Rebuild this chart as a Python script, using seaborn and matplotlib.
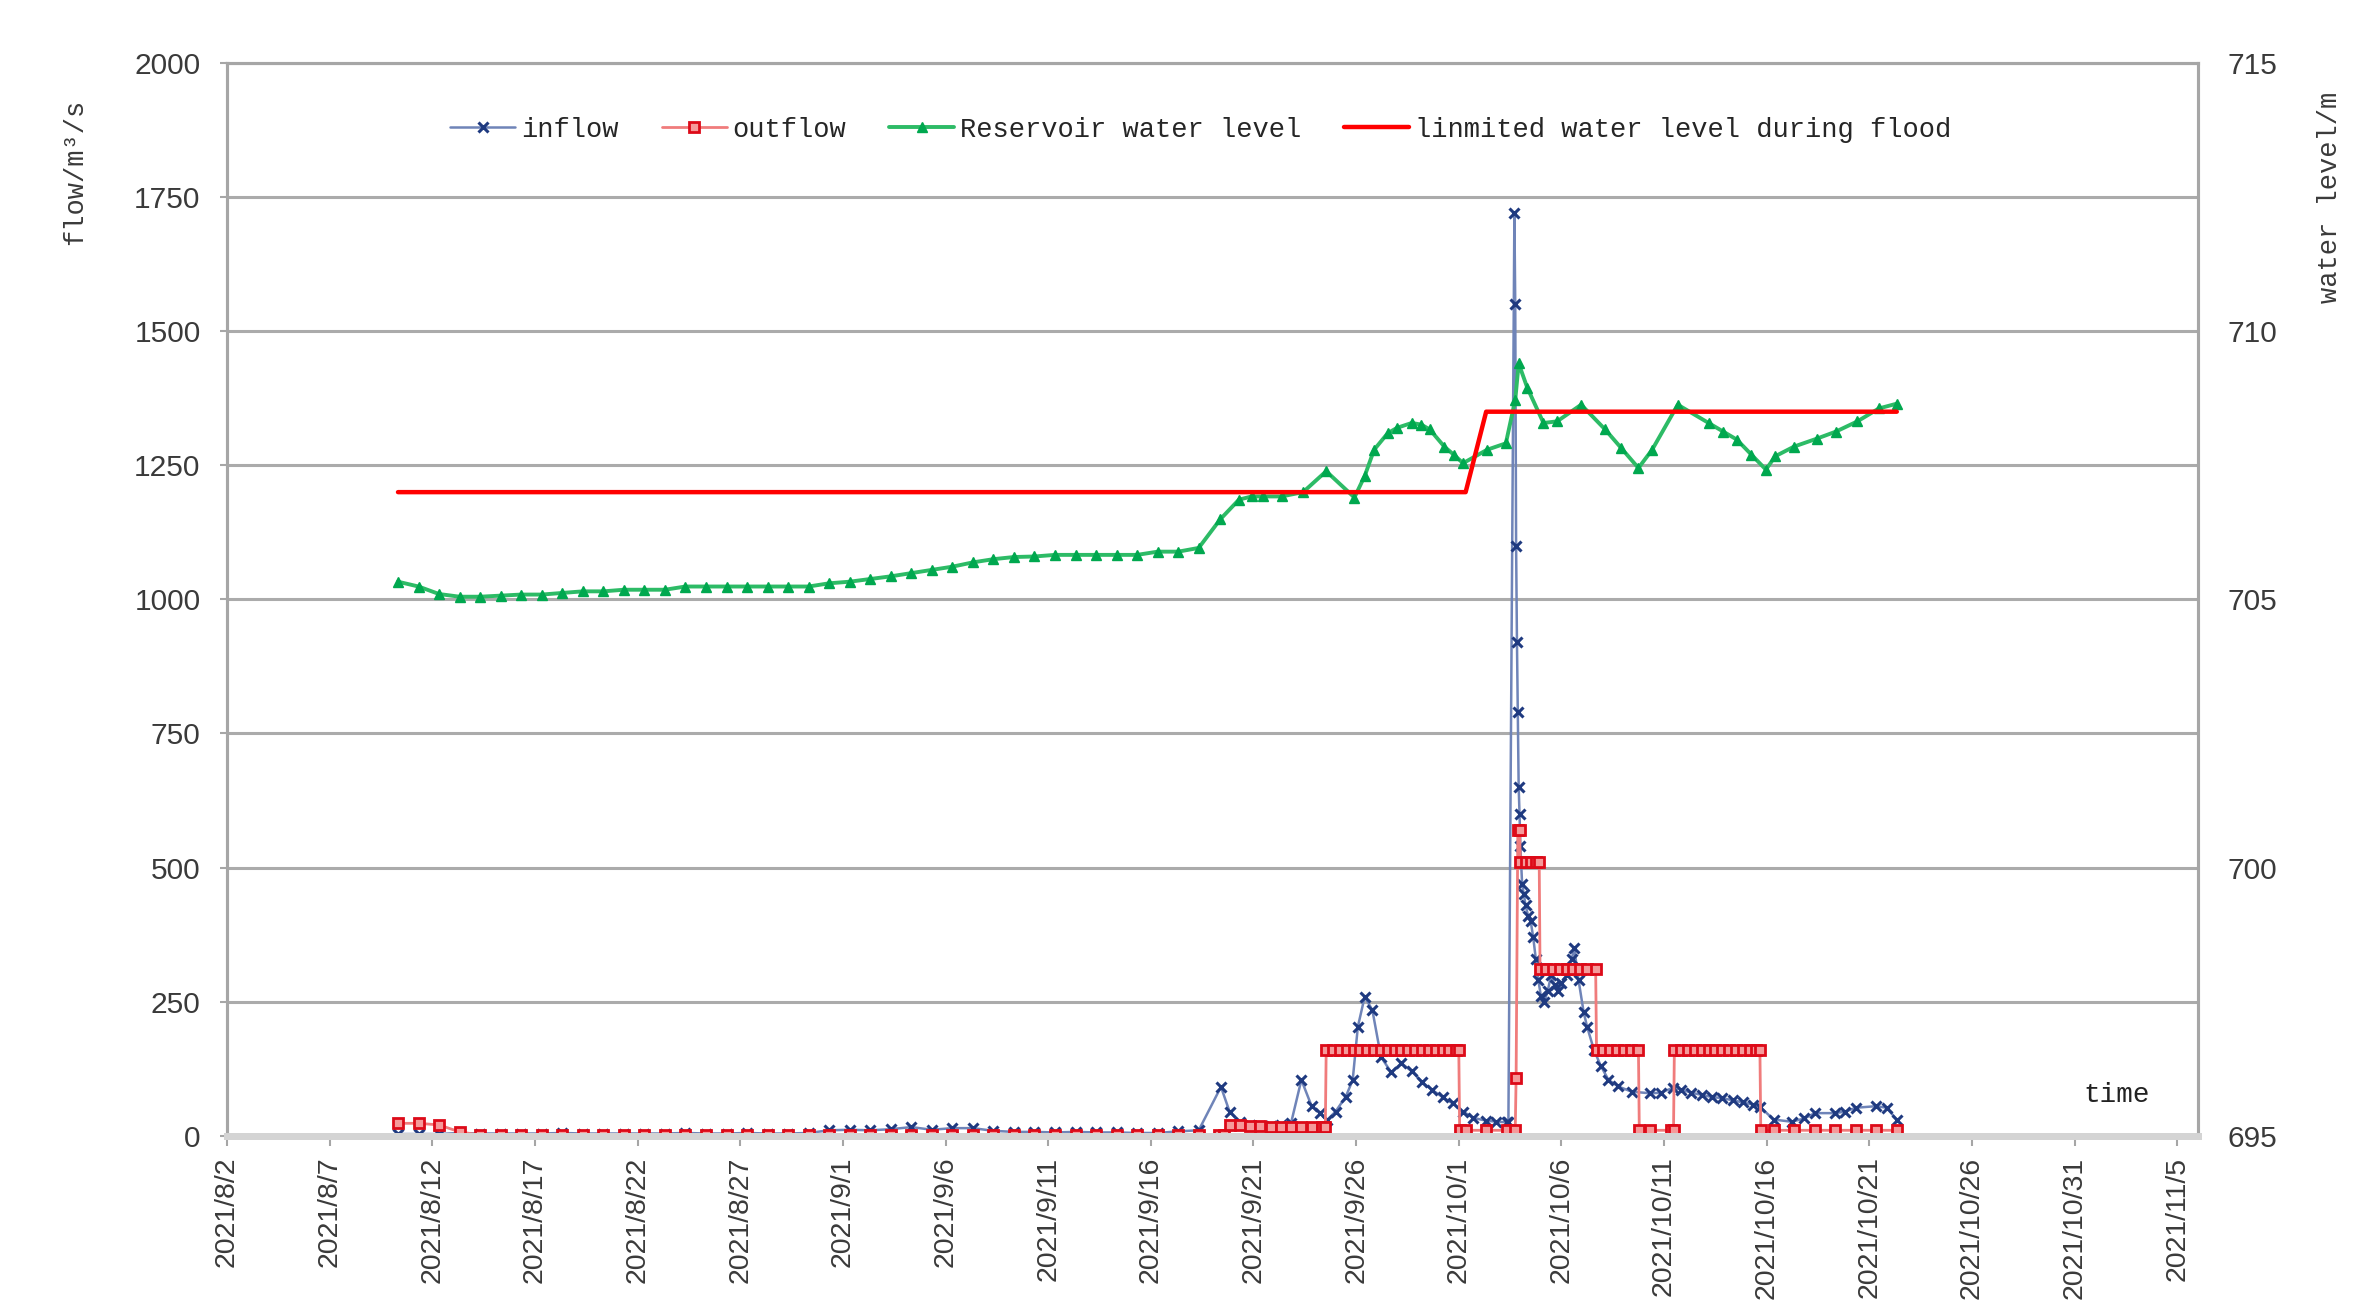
import matplotlib
matplotlib.use('Agg')
import matplotlib.pyplot as plt
from matplotlib.font_manager import FontProperties
import pandas as pd
import seaborn as sns

# ---------------- data ----------------
# daily readings (08:00) 2021-08-10 .. 2021-09-18
daily_time = pd.date_range('2021-08-10 08:00', '2021-09-18 08:00', freq='D')
inflow_daily = [3, 3, 3, 5, 4, 4, 4, 4, 5, 4, 4, 4, 4, 4, 5, 4, 4, 5, 4, 4,
                5, 10, 11, 10, 12, 16, 11, 14, 14, 9, 7, 7, 6, 7, 6, 6, 5, 5, 8, 10]
level_daily = [705.33, 705.24, 705.10, 705.05, 705.05, 705.07, 705.09, 705.09, 705.12, 705.15,
               705.15, 705.18, 705.18, 705.18, 705.24, 705.24, 705.24, 705.24, 705.24, 705.24,
               705.24, 705.30, 705.33, 705.38, 705.43, 705.49, 705.55, 705.61, 705.69, 705.75,
               705.79, 705.80, 705.83, 705.83, 705.83, 705.83, 705.83, 705.89, 705.89, 705.96]
outflow_daily_time = pd.date_range('2021-08-10 08:00', '2021-09-19 08:00', freq='D')
outflow_daily = [23, 23, 20, 7, 1, 1, 1, 1, 1, 1, 1, 1, 1, 1, 1, 1, 1, 1, 1, 1,
                 1, 1, 1, 1, 1, 1, 1, 1, 1, 1, 1, 1, 1, 1, 1, 1, 1, 1, 1, 1, 1]

# flood period readings
inflow_flood_time = [
    '2021-09-19 10:00', '2021-09-19 20:00', '2021-09-20 08:00', '2021-09-20 20:00',
    '2021-09-21 08:00', '2021-09-21 20:00', '2021-09-22 08:00', '2021-09-22 20:00',
    '2021-09-23 08:00', '2021-09-23 20:00', '2021-09-24 06:00', '2021-09-24 14:00',
    '2021-09-25 00:00', '2021-09-25 12:00', '2021-09-25 20:00', '2021-09-26 02:00',
    '2021-09-26 10:00', '2021-09-26 19:00', '2021-09-27 05:00', '2021-09-27 17:00',
    '2021-09-28 05:00', '2021-09-28 17:00', '2021-09-29 05:00', '2021-09-29 17:00',
    '2021-09-30 05:00', '2021-09-30 17:00', '2021-10-01 05:00', '2021-10-01 17:00',
    '2021-10-02 08:00', '2021-10-02 20:00', '2021-10-03 08:00', '2021-10-03 10:00',
    '2021-10-03 17:00', '2021-10-03 18:00', '2021-10-03 19:00', '2021-10-03 20:00',
    '2021-10-03 21:00', '2021-10-03 22:00', '2021-10-03 23:00', '2021-10-04 00:00',
    '2021-10-04 02:00', '2021-10-04 04:00', '2021-10-04 06:00', '2021-10-04 09:00',
    '2021-10-04 12:00', '2021-10-04 15:00', '2021-10-04 18:00', '2021-10-04 21:00',
    '2021-10-05 00:00', '2021-10-05 04:00', '2021-10-05 08:00', '2021-10-05 12:00',
    '2021-10-05 16:00', '2021-10-05 20:00', '2021-10-06 00:00', '2021-10-06 06:00',
    '2021-10-06 12:00', '2021-10-06 15:00', '2021-10-06 20:00', '2021-10-07 02:00',
    '2021-10-07 06:00', '2021-10-07 14:00', '2021-10-07 22:00', '2021-10-08 07:00',
    '2021-10-08 18:00', '2021-10-09 10:00', '2021-10-10 08:00', '2021-10-10 20:00',
    '2021-10-11 10:00', '2021-10-11 20:00', '2021-10-12 08:00', '2021-10-12 20:00',
    '2021-10-13 08:00', '2021-10-13 20:00', '2021-10-14 08:00', '2021-10-14 20:00',
    '2021-10-15 08:00', '2021-10-15 16:00', '2021-10-16 08:00', '2021-10-17 05:00',
    '2021-10-17 20:00', '2021-10-18 08:00', '2021-10-19 08:00', '2021-10-19 20:00',
    '2021-10-20 08:00', '2021-10-21 08:00', '2021-10-21 20:00', '2021-10-22 08:00']
inflow_flood = [91, 45, 25, 20, 18, 18, 20, 24, 104, 55, 42, 29,
                45, 73, 104, 203, 259, 234, 147, 118, 135, 120, 100, 85,
                72, 60, 45, 33, 28, 26, 25, 26,
                1720, 1550, 1100, 920, 790, 650, 600, 540,
                470, 450, 430, 410, 400, 370, 330, 290,
                260, 250, 270, 300, 280, 270, 284, 300,
                330, 349, 290, 230, 203, 160, 130, 104,
                92, 82, 79, 80, 89, 86, 80, 76,
                72, 70, 66, 62, 58, 54, 30, 26,
                32, 42, 42, 45, 52, 55, 52, 30]

outflow_flood_time = [
    '2021-09-19 14:00', '2021-09-19 20:00', '2021-09-20 08:00', '2021-09-20 20:00',
    '2021-09-21 08:00', '2021-09-21 20:00', '2021-09-22 08:00', '2021-09-22 20:00',
    '2021-09-23 08:00', '2021-09-23 20:00', '2021-09-24 08:00', '2021-09-24 12:00',
    '2021-09-24 13:00', '2021-09-24 21:00', '2021-09-25 05:00', '2021-09-25 13:00',
    '2021-09-25 21:00', '2021-09-26 05:00', '2021-09-26 13:00', '2021-09-26 21:00',
    '2021-09-27 05:00', '2021-09-27 13:00', '2021-09-27 21:00', '2021-09-28 05:00',
    '2021-09-28 13:00', '2021-09-28 21:00', '2021-09-29 05:00', '2021-09-29 13:00',
    '2021-09-29 21:00', '2021-09-30 05:00', '2021-09-30 13:00', '2021-09-30 21:00',
    '2021-10-01 00:00', '2021-10-01 01:00', '2021-10-01 08:00', '2021-10-02 08:00',
    '2021-10-03 08:00', '2021-10-03 18:00', '2021-10-03 19:00', '2021-10-03 21:00',
    '2021-10-03 23:00', '2021-10-04 00:00', '2021-10-04 06:00', '2021-10-04 12:00',
    '2021-10-04 18:00', '2021-10-04 22:00', '2021-10-04 23:00', '2021-10-05 06:00',
    '2021-10-05 14:00', '2021-10-05 22:00', '2021-10-06 06:00', '2021-10-06 14:00',
    '2021-10-06 22:00', '2021-10-07 06:00', '2021-10-07 16:00', '2021-10-07 17:00',
    '2021-10-08 01:00', '2021-10-08 09:00', '2021-10-08 17:00', '2021-10-09 01:00',
    '2021-10-09 09:00', '2021-10-09 18:00', '2021-10-09 19:00', '2021-10-10 08:00',
    '2021-10-11 08:00', '2021-10-11 11:00', '2021-10-11 12:00', '2021-10-11 20:00',
    '2021-10-12 04:00', '2021-10-12 12:00', '2021-10-12 20:00', '2021-10-13 04:00',
    '2021-10-13 12:00', '2021-10-13 20:00', '2021-10-14 04:00', '2021-10-14 12:00',
    '2021-10-14 20:00', '2021-10-15 04:00', '2021-10-15 12:00', '2021-10-15 16:00',
    '2021-10-15 17:00', '2021-10-16 08:00', '2021-10-17 08:00', '2021-10-18 08:00',
    '2021-10-19 08:00', '2021-10-20 08:00', '2021-10-21 08:00', '2021-10-22 08:00']
outflow_flood = [2, 20, 20, 18, 18, 17, 17, 17, 17, 17, 17, 17,
                 160, 160, 160, 160, 160, 160, 160, 160, 160, 160, 160, 160,
                 160, 160, 160, 160, 160, 160, 160, 160,
                 160, 10, 10, 10, 10, 10, 107, 570,
                 570, 510, 510, 510, 510, 510, 310, 310,
                 310, 310, 310, 310, 310, 310, 310, 160,
                 160, 160, 160, 160, 160, 160, 10, 10,
                 10, 10, 160, 160, 160, 160, 160, 160,
                 160, 160, 160, 160, 160, 160, 160, 160,
                 10, 10, 10, 10, 10, 10, 10, 10]

level_flood_time = [
    '2021-09-19 09:00', '2021-09-20 07:00', '2021-09-20 22:00', '2021-09-21 11:00',
    '2021-09-22 09:00', '2021-09-23 10:00', '2021-09-24 13:00', '2021-09-25 22:00',
    '2021-09-26 10:00', '2021-09-26 21:00', '2021-09-27 13:00', '2021-09-28 00:00',
    '2021-09-28 17:00', '2021-09-29 04:00', '2021-09-29 14:00', '2021-09-30 07:00',
    '2021-09-30 18:00', '2021-10-01 05:00', '2021-10-02 09:00', '2021-10-03 07:00',
    '2021-10-03 18:00', '2021-10-03 22:00', '2021-10-04 08:00', '2021-10-05 03:00',
    '2021-10-05 19:00', '2021-10-06 23:00', '2021-10-08 03:00', '2021-10-08 22:00',
    '2021-10-09 18:00', '2021-10-10 10:00', '2021-10-11 16:00', '2021-10-13 04:00',
    '2021-10-13 21:00', '2021-10-14 13:00', '2021-10-15 06:00', '2021-10-15 23:00',
    '2021-10-16 10:00', '2021-10-17 08:00', '2021-10-18 11:00', '2021-10-19 09:00',
    '2021-10-20 10:00', '2021-10-21 11:00', '2021-10-22 08:00']
level_flood = [706.49, 706.86, 706.92, 706.92, 706.92, 707.00, 707.39, 706.90,
               707.30, 707.79, 708.10, 708.20, 708.29, 708.26, 708.17, 707.85,
               707.70, 707.54, 707.79, 707.91, 708.72, 709.40, 708.95, 708.29,
               708.32, 708.63, 708.17, 707.82, 707.45, 707.79, 708.63, 708.29,
               708.13, 707.98, 707.70, 707.42, 707.67, 707.85, 708.00, 708.13,
               708.32, 708.56, 708.65]

limit_time = ['2021-08-10 08:00', '2021-10-01 08:00', '2021-10-02 08:00', '2021-10-22 08:00']
limit_level = [707.0, 707.0, 708.5, 708.5]

tick_dates = pd.date_range('2021-08-02', '2021-11-05', freq='5D')
tick_labels = ['2021/8/2', '2021/8/7', '2021/8/12', '2021/8/17', '2021/8/22', '2021/8/27',
               '2021/9/1', '2021/9/6', '2021/9/11', '2021/9/16', '2021/9/21', '2021/9/26',
               '2021/10/1', '2021/10/6', '2021/10/11', '2021/10/16', '2021/10/21',
               '2021/10/26', '2021/10/31', '2021/11/5']
flow_ticks = [0, 250, 500, 750, 1000, 1250, 1500, 1750, 2000]
level_ticks = [695, 700, 705, 710, 715]
legend_labels = ['inflow', 'outflow', 'Reservoir water level', 'linmited water level during flood']

# ---------------- frames ----------------
inflow_df = pd.DataFrame({'time': list(daily_time) + list(pd.to_datetime(inflow_flood_time)),
                          'v': inflow_daily + inflow_flood})
outflow_df = pd.DataFrame({'time': list(outflow_daily_time) + list(pd.to_datetime(outflow_flood_time)),
                           'v': outflow_daily + outflow_flood})
level_df = pd.DataFrame({'time': list(daily_time) + list(pd.to_datetime(level_flood_time)),
                         'v': level_daily + level_flood})
limit_df = pd.DataFrame({'time': pd.to_datetime(limit_time), 'v': limit_level})

# ---------------- plot ----------------
sns.set_theme(style='white')
plt.rcParams['font.family'] = ['Liberation Sans', 'DejaVu Sans']
mono = ['Liberation Mono', 'DejaVu Sans Mono']

fig = plt.figure(figsize=(23.71, 13.07), dpi=100)
ax = fig.add_axes([0.0957, 0.1311, 0.8313, 0.8206])
ax2 = ax.twinx()

common = dict(estimator=None, sort=False, legend=False)
sns.lineplot(data=inflow_df, x='time', y='v', ax=ax, color='#6F84B8', linewidth=1.8,
             marker='x', markersize=7, markeredgecolor='#1F3A80', markerfacecolor='#1F3A80',
             markeredgewidth=2.2, **common)
sns.lineplot(data=outflow_df, x='time', y='v', ax=ax, color='#F07C7C', linewidth=2.0,
             marker='s', markersize=7, markeredgecolor='#DD0A18', markerfacecolor='#F59A9A',
             markeredgewidth=2.0, **common)
sns.lineplot(data=level_df, x='time', y='v', ax=ax2, color='#2DBB66', linewidth=2.8,
             marker='^', markersize=7, markeredgecolor='#00A84F', markerfacecolor='#00A84F',
             markeredgewidth=1.0, **common)
sns.lineplot(data=limit_df, x='time', y='v', ax=ax2, color='#FF0000', linewidth=3.2, **common)

ax.set_xlim(pd.Timestamp('2021-08-02'), pd.Timestamp('2021-11-06'))
ax.set_ylim(0, 2000)
ax2.set_ylim(695, 715)
ax.set_xlabel('')
ax.set_ylabel('')
ax2.set_ylabel('')

ax.set_xticks(tick_dates)
ax.set_xticklabels(tick_labels, rotation=90, va='top', ha='center')
ax.set_yticks(flow_ticks)
ax.set_yticklabels([str(t) for t in flow_ticks])
ax2.set_yticks(level_ticks)
ax2.set_yticklabels([str(t) for t in level_ticks])

ax.tick_params(axis='x', length=7, width=1.5, color='#A6A6A6', pad=8,
               labelsize=20.5, labelcolor='#3A3A3A', bottom=True)
ax.tick_params(axis='y', length=5, width=1.5, color='#A6A6A6', pad=14,
               labelsize=21.5, labelcolor='#3A3A3A', left=True)
ax2.tick_params(axis='y', length=0, pad=21, labelsize=21.5, labelcolor='#3A3A3A', right=True)

ax.yaxis.grid(True, color='#ABABAB', linewidth=2.2)
ax.xaxis.grid(False)
ax2.grid(False)
ax.set_axisbelow(True)

for a in (ax, ax2):
    for s in ('left', 'right', 'top'):
        a.spines[s].set_color('#A6A6A6')
        a.spines[s].set_linewidth(2.2)
    a.spines['bottom'].set_color('#D4D4D4')
    a.spines['bottom'].set_linewidth(5)

handles = [ax.lines[0], ax.lines[1], ax2.lines[0], ax2.lines[1]]
ax2.legend(handles, legend_labels, loc='center', bbox_to_anchor=(0.494, 0.938), ncol=4,
           frameon=False, prop=FontProperties(family=mono, size=19.5),
           handlelength=2.4, columnspacing=1.6, handletextpad=0.2)

fig.text(75 / 2371, 1 - 172 / 1307, 'flow/m³/s', rotation=90, ha='center', va='center',
         family=mono, fontsize=19.5, color='#3A3A3A')
fig.text(2330 / 2371, 1 - 197 / 1307, 'water level/m', rotation=90, ha='center', va='center',
         family=mono, fontsize=19.5, color='#3A3A3A')
fig.text(2117 / 2371, 1 - 1095 / 1307, 'time', ha='center', va='center',
         family=mono, fontsize=20, color='#222222')

fig.savefig('out.png', dpi=100)
